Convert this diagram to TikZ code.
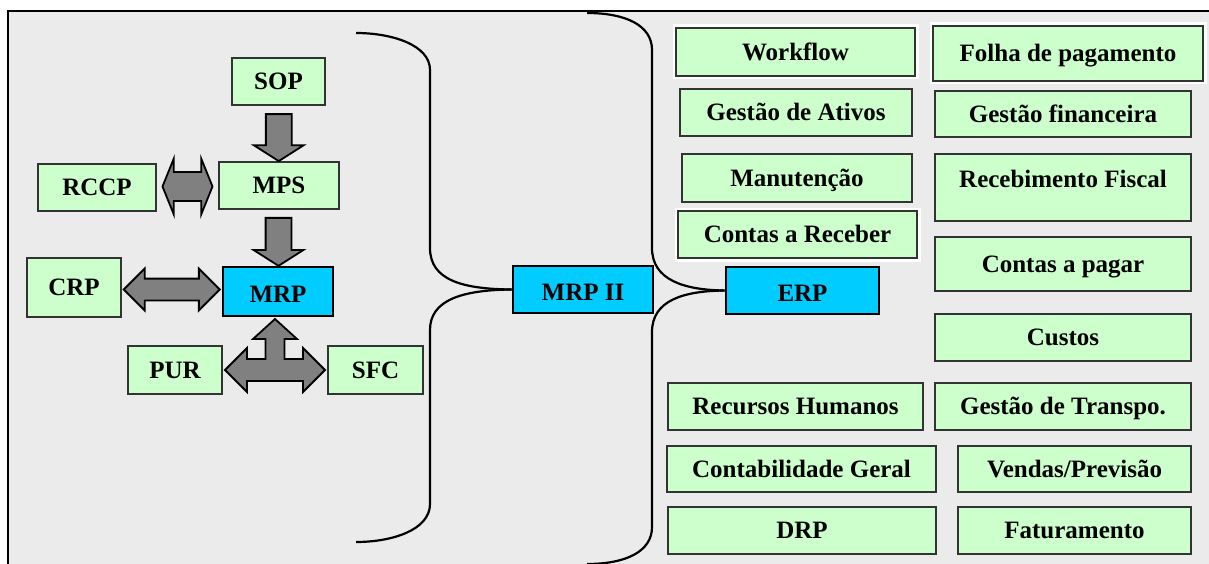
\documentclass[tikz,border=0pt]{standalone}
\usepackage{fontspec}
\setmainfont{Liberation Serif}
\usetikzlibrary{shapes.arrows,calc}
\definecolor{boxgreen}{RGB}{204,255,204}
\definecolor{boxblue}{RGB}{0,204,255}
\definecolor{arrowgray}{RGB}{128,128,128}
\definecolor{bggray}{RGB}{235,235,235}

\begin{document}
\begin{tikzpicture}[x=1pt,y=-1pt,font=\bfseries\fontsize{25}{28}\selectfont]
\tikzset{
% Two box styles: modules (green) and systems (blue)
module/.style={draw=black!80,fill=boxgreen,line width=1.6pt,inner sep=0pt,text height=16.5pt,text depth=0pt},
system/.style={module,draw=black,fill=boxblue,line width=2.6pt,text height=22.5pt},
halo/.style={preaction={draw=white,line width=7pt}},
boxdim/.style 2 args={minimum width=#1pt,minimum height=#2pt}
}
% Block arrows and braces
\tikzstyle blockarrow=[draw=black,fill=arrowgray,line width=1.8pt,inner xsep=0pt]
\tikzstyle down arrow=[blockarrow,single arrow,rotate=-90,inner ysep=12pt,single arrow head extend=12pt,single arrow tip angle=115]
\tikzstyle both arrow=[blockarrow,double arrow]
\tikzstyle bracket=[line width=2.2pt]
% Frame
\useasboundingbox (0,0) rectangle (1209,564);
\fill[bggray] (8,11) rectangle (1209,564);
\draw[line width=2.5pt] (8,564) -- (8,11) -- (1209,11);

% The MRP modules
\node(sop)[module,boxdim={93}{47}] at (278.5,81.5) {SOP};
\node(mps)[module,boxdim={120}{47}] at (279,185.5) {MPS};
\node(rccp)[module,boxdim={118}{47}] at (97,187.5) {RCCP};
\node(crp)[module,boxdim={94}{59}] at (74,287.5) {CRP};
\node(mrp)[system,boxdim={110}{49}] at (278,291.5) {MRP};
\node(pur)[module,boxdim={94}{48}] at (175,370) {PUR};
\node(sfc)[module,boxdim={95}{48}] at (375.5,370) {SFC};

\node(a1)[down arrow,minimum height=47pt] at ($(sop.south)!.5!(mps.north)$) {};
\node(a2)[down arrow,minimum height=48pt] at ($(mps.south)!.5!(mrp.north)$) {};
\node(a3)[both arrow,minimum height=50pt,inner ysep=13.5pt,double arrow head extend=13.5pt,double arrow tip angle=136] at ($(rccp.east)!.5!(mps.west)$) {};
\node(a4)[both arrow,minimum height=96pt,inner ysep=10pt,double arrow head extend=10pt,double arrow tip angle=90] at ($(crp.east)!.5!(mrp.west)$) {};
\coordinate (hub) at ($(mrp.south |- pur.east)+(-3,0)$);
\draw[blockarrow,shift={(hub)}] (0,-51) -- (22,-31) -- (9.5,-31) -- (9.5,-11) -- (28,-11) -- (28,-22) -- (50,0) -- (28,22) -- (28,11) -- (-28,11) -- (-28,22) -- (-50,0) -- (-28,-22) -- (-28,-11) -- (-9.5,-11) -- (-9.5,-31) -- (-22,-31) -- cycle;

% MRP II and ERP
\node(mrp2)[system,boxdim={140}{47}] at (583,289.5) {MRP II};
\node(erp)[system,boxdim={153}{47}] at (802.5,290.5) {ERP};

\coordinate (b1top) at (356,33);
\coordinate (b1bot) at (356,542);
\draw[bracket] (b1top) .. controls (392,33) and (430,45) .. (430,70) -- (430,248) .. controls (430,280) and (462,289) .. (mrp2.west);
\draw[bracket] (b1bot) .. controls (392,542) and (430,530) .. (430,504) -- (430,330) .. controls (430,300) and (462,290) .. (mrp2.west);
\coordinate (b2top) at (587,13);
\coordinate (b2bot) at (587,564);
\draw[bracket] (b2top) .. controls (625,13) and (652,25) .. (652,50) -- (652,248) .. controls (652,280) and (684,290) .. (erp.west);
\draw[bracket] (b2bot) .. controls (625,564) and (652,552) .. (652,527) -- (652,332) .. controls (652,300) and (684,291) .. (erp.west);

% The ERP modules
\node(wf)[module,halo,boxdim={239}{48}] at (795.5,52) {Workflow};
\node(ativos)[module,boxdim={232}{47}] at (796,112.5) {Gestão de Ativos};
\node(manut)[module,boxdim={230}{48}] at (797,178) {Manutenção};
\node(creceb)[module,halo,boxdim={239}{47}] at (797.5,234.5) {Contas a Receber};
\node(rh)[module,boxdim={255}{47}] at (795.5,406.5) {Recursos Humanos};
\node(contab)[module,boxdim={269}{46}] at (801.5,469) {Contabilidade Geral};
\node(drp)[module,boxdim={268}{47}] at (802,530.5) {DRP};

\node(folha)[module,halo,boxdim={270}{55}] at (1068,53.5) {Folha de pagamento};
\node(financ)[module,boxdim={256}{46}] at (1063,114) {Gestão financeira};
\node(receb)[module,boxdim={256}{67},text height=34pt,text depth=33pt] at (1063,187.5) {Recebimento Fiscal};
\node(cpagar)[module,boxdim={256}{54}] at (1063,264) {Contas a pagar};
\node(custos)[module,boxdim={256}{47}] at (1063,337.5) {Custos};
\node(transp)[module,boxdim={256}{47}] at (1063,406.5) {Gestão de Transpo.};
\node(vendas)[module,boxdim={233}{46}] at (1074.5,469) {Vendas/Previsão};
\node(fatur)[module,boxdim={233}{47}] at (1074.5,530.5) {Faturamento};
\end{tikzpicture}
\end{document}
